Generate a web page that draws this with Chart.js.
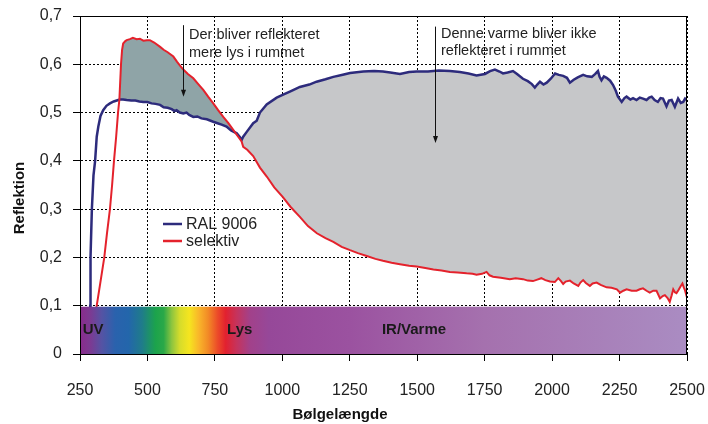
<!DOCTYPE html>
<html>
<head>
<meta charset="utf-8">
<script src="https://cdn.jsdelivr.net/npm/chart.js@4.4.0/dist/chart.umd.min.js"></script>
<style>
  body { margin: 0; background: #fff; }
</style>
</head>
<body>
<canvas id="chart" width="708" height="424"></canvas>
<script>
// RAL 9006 (bølgelængde i nm / reflektion)
const ralNm = [285, 288, 289, 294, 300, 306, 312, 318, 326, 336, 348, 361, 375, 392, 396, 410, 423, 440, 455, 470,
  485, 500, 515, 530, 547, 560, 575, 590, 600, 608, 620, 633, 645, 655, 670, 685, 700, 720, 744, 760,
  775, 793, 810, 831, 843, 849, 855, 868, 892, 905, 917, 942, 979, 1003, 1030, 1065, 1100, 1127, 1160, 1189,
  1220, 1251, 1300, 1340, 1373, 1400, 1436, 1470, 1498, 1540, 1580, 1621, 1658, 1690, 1720, 1751, 1770, 1788, 1805, 1818,
  1835, 1855, 1870, 1892, 1910, 1925, 1936, 1945, 1955, 1968, 1980, 1995, 2011, 2025, 2041, 2055, 2066, 2080, 2095, 2115,
  2130, 2147, 2160, 2170, 2176, 2183, 2192, 2202, 2215, 2226, 2236, 2244, 2258, 2268, 2276, 2290, 2300, 2313, 2325, 2337,
  2350, 2360, 2369, 2380, 2392, 2402, 2411, 2424, 2433, 2443, 2455, 2467, 2477, 2486, 2493, 2500];
const ralVal = [0.05, 0.10, 0.20, 0.30, 0.37, 0.40, 0.45, 0.471, 0.493, 0.505, 0.514, 0.519, 0.523, 0.526, 0.527, 0.527, 0.526, 0.525, 0.525, 0.523,
  0.522, 0.522, 0.519, 0.518, 0.516, 0.511, 0.510, 0.507, 0.503, 0.505, 0.500, 0.498, 0.500, 0.495, 0.491, 0.492, 0.488, 0.486, 0.481, 0.478,
  0.475, 0.471, 0.463, 0.457, 0.449, 0.443, 0.450, 0.460, 0.478, 0.483, 0.500, 0.517, 0.531, 0.537, 0.544, 0.553, 0.558, 0.564, 0.569, 0.574,
  0.578, 0.582, 0.585, 0.586, 0.585, 0.583, 0.580, 0.584, 0.585, 0.585, 0.587, 0.586, 0.584, 0.581, 0.577, 0.580, 0.586, 0.589, 0.585, 0.581,
  0.583, 0.586, 0.580, 0.570, 0.565, 0.559, 0.552, 0.558, 0.564, 0.558, 0.562, 0.570, 0.581, 0.578, 0.576, 0.572, 0.562, 0.568, 0.573, 0.578,
  0.575, 0.574, 0.580, 0.586, 0.574, 0.567, 0.575, 0.572, 0.566, 0.557, 0.545, 0.533, 0.522, 0.530, 0.533, 0.527, 0.530, 0.526, 0.531, 0.529,
  0.526, 0.531, 0.533, 0.526, 0.522, 0.530, 0.529, 0.513, 0.525, 0.526, 0.512, 0.529, 0.520, 0.522, 0.529, 0.526];

// selektiv
const selNm = [300, 312, 326, 340, 350, 361, 369, 376, 384, 391, 396, 402, 406, 410, 418, 423, 435, 446, 460, 472,
  485, 498, 509, 525, 547, 560, 575, 596, 610, 620, 633, 650, 670, 690, 707, 725, 744, 762, 781, 800,
  818, 835, 849, 855, 870, 892, 917, 943, 970, 1002, 1030, 1065, 1095, 1128, 1160, 1189, 1220, 1251, 1280, 1313,
  1345, 1373, 1405, 1436, 1470, 1498, 1530, 1560, 1590, 1621, 1650, 1683, 1705, 1720, 1740, 1757, 1768, 1781, 1810, 1843,
  1865, 1892, 1910, 1929, 1945, 1960, 1975, 1992, 2010, 2023, 2033, 2041, 2050, 2066, 2080, 2097, 2105, 2115, 2125, 2140,
  2150, 2165, 2180, 2202, 2220, 2240, 2252, 2264, 2276, 2295, 2313, 2325, 2337, 2350, 2362, 2375, 2387, 2400, 2410, 2418,
  2428, 2436, 2443, 2449, 2455, 2461, 2468, 2476, 2483, 2488, 2492, 2496, 2500];
const selVal = [0.05, 0.10, 0.15, 0.20, 0.25, 0.30, 0.35, 0.40, 0.45, 0.50, 0.527, 0.60, 0.63, 0.643, 0.648, 0.650, 0.652, 0.655, 0.652, 0.653,
  0.649, 0.650, 0.650, 0.645, 0.636, 0.630, 0.625, 0.616, 0.605, 0.598, 0.589, 0.580, 0.571, 0.558, 0.547, 0.533, 0.519, 0.505, 0.491, 0.478,
  0.464, 0.451, 0.440, 0.429, 0.423, 0.410, 0.386, 0.367, 0.345, 0.325, 0.305, 0.284, 0.265, 0.250, 0.240, 0.232, 0.222, 0.215, 0.209, 0.203,
  0.197, 0.193, 0.189, 0.186, 0.183, 0.181, 0.178, 0.175, 0.173, 0.170, 0.169, 0.167, 0.166, 0.164, 0.166, 0.170, 0.163, 0.160, 0.158, 0.155,
  0.157, 0.155, 0.152, 0.151, 0.154, 0.157, 0.153, 0.150, 0.149, 0.157, 0.151, 0.145, 0.150, 0.152, 0.146, 0.141, 0.148, 0.153, 0.147, 0.141,
  0.146, 0.148, 0.143, 0.138, 0.137, 0.134, 0.127, 0.131, 0.134, 0.131, 0.131, 0.134, 0.136, 0.131, 0.127, 0.131, 0.131, 0.115, 0.120, 0.122,
  0.116, 0.108, 0.121, 0.134, 0.128, 0.126, 0.132, 0.140, 0.146, 0.138, 0.133, 0.125, 0.117];

const xTicks = [250, 500, 750, 1000, 1250, 1500, 1750, 2000, 2250, 2500];
const yTicks = [0, 0.1, 0.2, 0.3, 0.4, 0.5, 0.6, 0.7];
const yTickLabels = ['0', '0,1', '0,2', '0,3', '0,4', '0,5', '0,6', '0,7'];

// spektrum-bjælken (0 til 0,1)
const spectrumBand = [0, 0.1];
const spectrumNm = [250, 290, 330, 380, 430, 480, 530, 560, 590, 620, 655, 690, 725, 760, 790, 830, 880, 950, 1250, 1750, 2500];
const spectrumColors = ['#8a2b8c', '#7b3b93', '#5553a4', '#2a62ad', '#2366ab', '#1f7c8a', '#1ca34c', '#2aa848', '#8dc53f', '#d6dc2b',
  '#f5e51f', '#f9b62a', '#f28a26', '#ec4b29', '#e2212f', '#c6335c', '#a2418a', '#964899', '#9b52a0', '#a571ae', '#aa8cc2'];

const crossNm = 396; // hvor kurverne krydser første gang

const font = '"Liberation Sans", Arial, sans-serif';
Chart.defaults.font.family = font;

const pts = (xs, ys) => xs.map((x, i) => ({ x: x, y: ys[i] }));
const ralPts = pts(ralNm, ralVal);
const selPts = pts(selNm, selVal);

const notes = [
  { lines: ['Der bliver reflekteret', 'mere lys i rummet'], textNm: 654, textY: [0.653, 0.616], arrowNm: 632, arrowY: [0.681, 0.533] },
  { lines: ['Denne varme bliver ikke', 'reflekteret i rummet'], textNm: 1588, textY: [0.655, 0.619], arrowNm: 1566, arrowY: [0.678, 0.437] }
];
const bandText = [
  { text: 'UV', nm: 260, align: 'left' },
  { text: 'Lys', nm: 842, align: 'center' },
  { text: 'IR/Varme', nm: 1488, align: 'center' }
];

const extras = {
  id: 'extras',
  afterDatasetsDraw(chart) {
    const { ctx, chartArea: a, scales: { x, y } } = chart;
    ctx.save();
    // spektrum
    const x0 = x.getPixelForValue(spectrumNm[0]);
    const x1 = x.getPixelForValue(spectrumNm[spectrumNm.length - 1]);
    const g = ctx.createLinearGradient(x0, 0, x1, 0);
    spectrumNm.forEach((nm, i) => g.addColorStop((x.getPixelForValue(nm) - x0) / (x1 - x0), spectrumColors[i]));
    const top = y.getPixelForValue(spectrumBand[1]) + 1;
    const bottom = y.getPixelForValue(spectrumBand[0]);
    ctx.fillStyle = g;
    ctx.fillRect(x0, top, x1 - x0, bottom - top);

    ctx.fillStyle = '#1a1a1a';
    ctx.font = 'bold 15px ' + font;
    ctx.textBaseline = 'middle';
    const midY = y.getPixelForValue((spectrumBand[0] + spectrumBand[1]) / 2);
    bandText.forEach(b => {
      ctx.textAlign = b.align;
      ctx.fillText(b.text, x.getPixelForValue(b.nm), midY);
    });

    // ramme
    ctx.strokeStyle = '#000';
    ctx.lineWidth = 1;
    ctx.strokeRect(Math.round(a.left) + 0.5, Math.round(a.top) + 0.5, Math.round(a.right - a.left) - 1, Math.round(a.bottom - a.top));

    // forklaring
    const legendItems = [chart.data.datasets[1], chart.data.datasets[0]];
    ctx.font = '16px ' + font;
    ctx.textAlign = 'left';
    legendItems.forEach((ds, i) => {
      const ly = 224 + i * 17;
      ctx.strokeStyle = ds.borderColor;
      ctx.lineWidth = 2.5;
      ctx.beginPath();
      ctx.moveTo(163, ly);
      ctx.lineTo(182, ly);
      ctx.stroke();
      ctx.fillStyle = '#222';
      ctx.fillText(ds.label, 186, ly + 1);
    });

    // noter med pile
    ctx.font = '14.5px ' + font;
    ctx.textBaseline = 'alphabetic';
    notes.forEach(n => {
      const tx = x.getPixelForValue(n.textNm);
      n.lines.forEach((t, i) => {
        ctx.fillStyle = '#222';
        ctx.fillText(t, tx, y.getPixelForValue(n.textY[i]));
      });
      const ax = Math.round(x.getPixelForValue(n.arrowNm)) + 0.5;
      const ay0 = y.getPixelForValue(n.arrowY[0]);
      const ay1 = y.getPixelForValue(n.arrowY[1]);
      ctx.strokeStyle = '#111';
      ctx.lineWidth = 1;
      ctx.beginPath();
      ctx.moveTo(ax, ay0);
      ctx.lineTo(ax, ay1 - 5);
      ctx.stroke();
      ctx.fillStyle = '#111';
      ctx.beginPath();
      ctx.moveTo(ax - 2.5, ay1 - 7);
      ctx.lineTo(ax + 2.5, ay1 - 7);
      ctx.lineTo(ax, ay1);
      ctx.closePath();
      ctx.fill();
    });

    // aksetitler
    ctx.fillStyle = '#111';
    ctx.font = 'bold 15px ' + font;
    ctx.textAlign = 'center';
    ctx.textBaseline = 'middle';
    ctx.fillText('Bølgelængde', 340, 415);
    ctx.translate(20, 198);
    ctx.rotate(-Math.PI / 2);
    ctx.fillText('Reflektion', 0, 0);
    ctx.restore();
  }
};

const gridOpts = {
  color: '#000',
  lineWidth: 1,
  tickLength: 7,
  tickColor: '#000',
  tickBorderDash: []
};

new Chart(document.getElementById('chart'), {
  type: 'line',
  data: {
    datasets: [
      { label: 'selektiv', data: selPts, borderColor: '#e4222c', borderWidth: 2, pointRadius: 0, fill: false, order: 0 },
      { label: 'RAL 9006', data: ralPts, borderColor: '#2d2b7c', borderWidth: 2.5, pointRadius: 0, fill: false, order: 1 },
      { label: 'ralArea', data: ralPts.filter(p => p.x >= crossNm), borderColor: 'rgba(0,0,0,0)', borderWidth: 0, pointRadius: 0, fill: false, order: 3 },
      { label: 'selArea', data: selPts.filter(p => p.x >= crossNm), borderColor: 'rgba(0,0,0,0)', borderWidth: 0, pointRadius: 0,
        fill: { target: 2, above: '#8fa4a7', below: '#c6c7c9' }, order: 2 }
    ]
  },
  options: {
    responsive: false,
    animation: false,
    devicePixelRatio: 1,
    layout: { padding: { top: 16, right: 21, left: 0, bottom: 0 } },
    plugins: { legend: { display: false }, tooltip: { enabled: false } },
    scales: {
      x: {
        type: 'linear',
        min: 250,
        max: 2500,
        afterBuildTicks: s => { s.ticks = xTicks.map(v => ({ value: v })); },
        afterFit: s => { s.height = 70; s.paddingLeft = 0; s.paddingRight = 0; },
        ticks: { color: '#222', font: { size: 16 }, padding: 20, maxRotation: 0, callback: v => String(v) },
        grid: gridOpts,
        border: { display: true, color: '#000', dash: [2, 2] }
      },
      y: {
        min: 0,
        max: 0.7,
        afterBuildTicks: s => { s.ticks = yTicks.map(v => ({ value: v })); },
        afterFit: s => { s.width = 80; s.paddingTop = 0; s.paddingBottom = 0; },
        ticks: { color: '#222', font: { size: 16 }, padding: 11, callback: (v, i) => yTickLabels[i] },
        grid: gridOpts,
        border: { display: true, color: '#000', dash: [2, 2] }
      }
    }
  },
  plugins: [extras]
});
</script>
</body>
</html>
